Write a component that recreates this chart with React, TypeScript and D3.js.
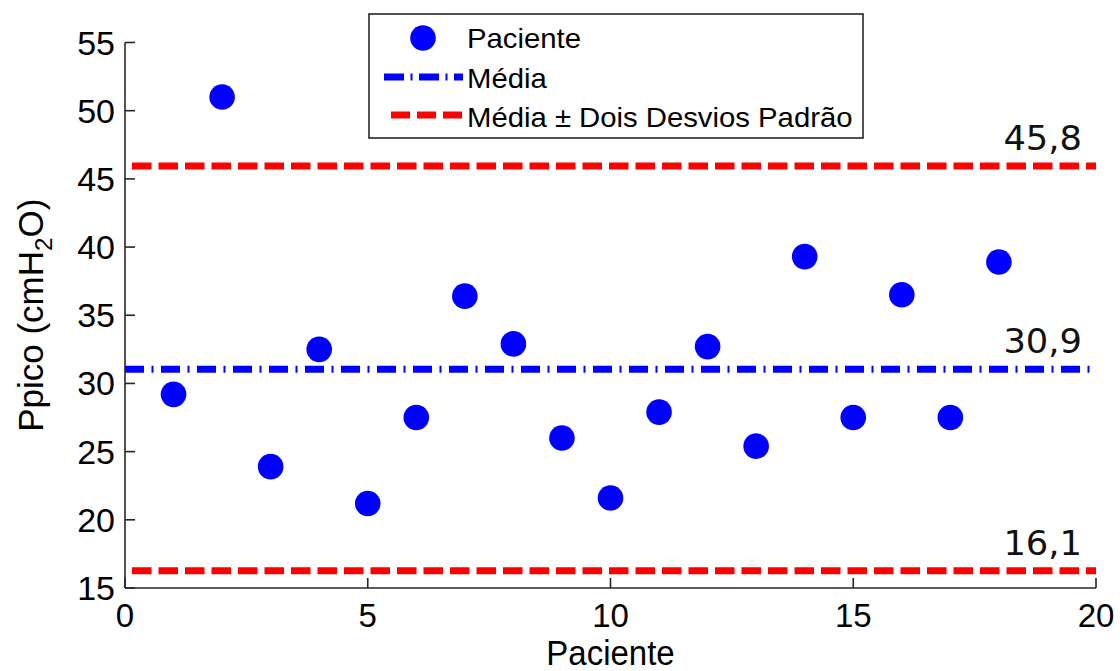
import React from "react";
import * as d3 from "d3";

// ---- data ----
const patients = [1, 2, 3, 4, 5, 6, 7, 8, 9, 10, 11, 12, 13, 14, 15, 16, 17, 18];
const ppico = [29.2, 51.0, 23.9, 32.5, 21.2, 27.5, 36.4, 32.9, 26.0, 21.6, 27.9, 32.7, 25.4, 39.3, 27.5, 36.5, 27.5, 38.9];
const refLineValues = [45.95, 31.04, 16.27];
const refLineLabels = ["45,8", "30,9", "16,1"];
const refLineKinds = ["sd", "mean", "sd"];
const xTicks = [0, 5, 10, 15, 20];
const yTicks = [15, 20, 25, 30, 35, 40, 45, 50, 55];
const legendLabels = ["Paciente", "Média", "Média ± Dois Desvios Padrão"];

const W = 1120;
const H = 671;
const left = 125, right = 1096, top = 42.5, bottom = 588;

export default function App() {
  const x = d3.scaleLinear().domain([0, 20]).range([left, right]);
  const y = d3.scaleLinear().domain([15, 55]).range([bottom, top]);
  const axisColor = "#262626";
  const font = "Arial, 'Liberation Sans', sans-serif";

  const styleFor = (k: string) =>
    k === "mean"
      ? { stroke: "#0000ff", dash: "19 7.5 2 7.5", offset: 0 }
      : { stroke: "#ff0000", dash: "19.5 7", offset: 19.5 };

  return (
    <svg
      width={W}
      height={H}
      style={{ position: "fixed", left: 0, top: 0, background: "#fff" }}
      fontFamily={font}
    >
      <rect x={0} y={0} width={W} height={H} fill="#fff" />

      {/* reference lines */}
      {refLineValues.map((v, i) => {
        const s = styleFor(refLineKinds[i]);
        return (
          <g key={"ref" + i}>
            <line
              x1={x(0)}
              x2={x(20)}
              y1={y(v)}
              y2={y(v)}
              stroke={s.stroke}
              strokeWidth={7}
              strokeDasharray={s.dash}
              strokeDashoffset={s.offset}
            />
            <text
              transform={`translate(1082, ${y(v) - 16}) scale(1.07, 1)`}
              textAnchor="end"
              fontFamily="'DejaVu Sans', Verdana, sans-serif"
              fontSize={33}
              fill="#111"
            >
              {refLineLabels[i]}
            </text>
          </g>
        );
      })}

      {/* points */}
      {patients.map((p, i) => (
        <circle key={"pt" + p} cx={x(p)} cy={y(ppico[i])} r={12.8} fill="#0000ff" />
      ))}

      {/* axes */}
      <line x1={left} x2={left} y1={top} y2={bottom} stroke={axisColor} strokeWidth={1.6} />
      <line x1={left} x2={right} y1={bottom} y2={bottom} stroke={axisColor} strokeWidth={1.6} />
      {yTicks.map((t) => (
        <g key={"yt" + t}>
          <line x1={left} x2={left + 10} y1={y(t)} y2={y(t)} stroke={axisColor} strokeWidth={1.6} />
          <text x={left - 10} y={y(t)} textAnchor="end" dominantBaseline="central" fontSize={34} fill="#000">
            {t}
          </text>
        </g>
      ))}
      {xTicks.map((t) => (
        <g key={"xt" + t}>
          <line x1={x(t)} x2={x(t)} y1={bottom} y2={bottom - 10} stroke={axisColor} strokeWidth={1.6} />
          <text x={x(t)} y={627} textAnchor="middle" fontSize={33} fill="#000">
            {t}
          </text>
        </g>
      ))}

      {/* axis titles */}
      <text
        transform={`translate(${(left + right) / 2}, 665) scale(1, 1.08)`}
        textAnchor="middle"
        fontSize={33}
        fill="#000"
      >
        Paciente
      </text>
      <text
        transform={`translate(43, ${(top + bottom) / 2}) rotate(-90)`}
        textAnchor="middle"
        fontSize={35}
        fill="#000"
      >
        Ppico (cmH
        <tspan fontSize={24} dy={9}>2</tspan>
        <tspan dy={-9}>O)</tspan>
      </text>

      {/* legend */}
      <g>
        <rect x={369} y={14} width={494} height={124} fill="#fff" stroke={axisColor} strokeWidth={1.6} />
        <circle cx={423} cy={38} r={12.8} fill="#0000ff" />
        <line x1={384} x2={463} y1={77} y2={77} stroke="#0000ff" strokeWidth={7} strokeDasharray="20 6.5 2 6.5" />
        <line x1={391} x2={463} y1={115} y2={115} stroke="#ff0000" strokeWidth={7} strokeDasharray="19 7" />
        {legendLabels.map((l, i) => (
          <text
            key={"lg" + i}
            transform={`translate(467, ${48 + i * 39.5}) scale(1.085, 1)`}
            fontSize={27}
            fill="#000"
          >
            {l}
          </text>
        ))}
      </g>
    </svg>
  );
}
